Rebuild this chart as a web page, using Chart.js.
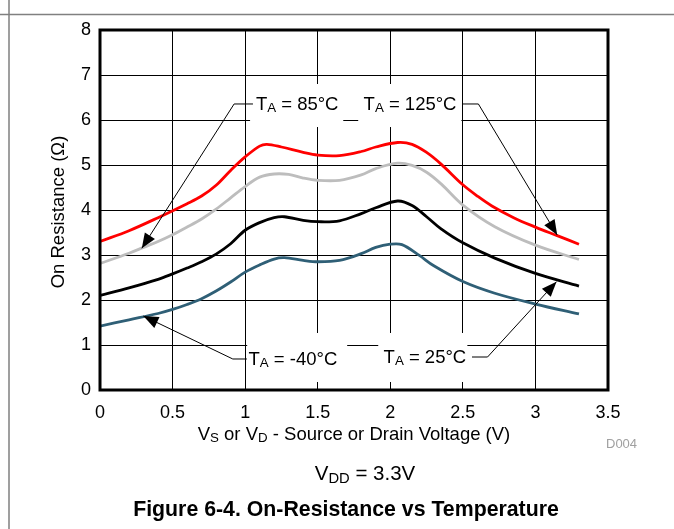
<!DOCTYPE html>
<html><head><meta charset="utf-8">
<script src="https://cdn.jsdelivr.net/npm/chart.js@4.4.0/dist/chart.umd.min.js"></script>
<style>html,body{margin:0;padding:0;background:#fff;overflow:hidden}</style>
</head><body>
<canvas id="c" width="674" height="529"></canvas>
<script>
// ---- data ----
const xTicks = [0, 0.5, 1, 1.5, 2, 2.5, 3, 3.5];
const yTicks = [0, 1, 2, 3, 4, 5, 6, 7, 8];

const v125 = [0, 0.2, 0.4, 0.6, 0.7, 0.8, 0.9, 1.0, 1.1, 1.15, 1.25, 1.4, 1.5, 1.65, 1.8, 1.9, 2.05, 2.15, 2.25, 2.35, 2.5, 2.6, 2.7, 2.85, 3.0, 3.15, 3.3];
const r125 = [3.30, 3.54, 3.83, 4.14, 4.31, 4.55, 4.88, 5.18, 5.42, 5.46, 5.40, 5.28, 5.22, 5.21, 5.30, 5.40, 5.50, 5.46, 5.28, 5.02, 4.56, 4.31, 4.09, 3.83, 3.62, 3.43, 3.24];

const v85 = [0, 0.2, 0.3, 0.4, 0.5, 0.6, 0.7, 0.8, 0.9, 1.0, 1.1, 1.2, 1.3, 1.4, 1.5, 1.65, 1.8, 1.9, 2.05, 2.15, 2.25, 2.35, 2.5, 2.72, 3.0, 3.3];
const r85 = [2.81, 3.04, 3.17, 3.30, 3.45, 3.62, 3.80, 4.02, 4.27, 4.52, 4.73, 4.80, 4.79, 4.71, 4.66, 4.66, 4.78, 4.92, 5.04, 4.99, 4.84, 4.58, 4.11, 3.63, 3.22, 2.90];

const v25 = [0, 0.2, 0.4, 0.5, 0.6, 0.7, 0.8, 0.9, 1.0, 1.1, 1.2, 1.27, 1.4, 1.5, 1.65, 1.8, 1.9, 2.05, 2.15, 2.25, 2.35, 2.5, 2.72, 3.0, 3.3];
const r25 = [2.10, 2.27, 2.46, 2.58, 2.71, 2.85, 3.02, 3.25, 3.55, 3.72, 3.83, 3.85, 3.77, 3.74, 3.76, 3.92, 4.05, 4.20, 4.10, 3.85, 3.58, 3.27, 2.93, 2.59, 2.31];

const vm40 = [0, 0.2, 0.4, 0.5, 0.6, 0.7, 0.8, 0.9, 1.0, 1.1, 1.2, 1.27, 1.4, 1.5, 1.65, 1.8, 1.9, 2.0, 2.08, 2.2, 2.3, 2.5, 2.72, 3.0, 3.3];
const rm40 = [1.42, 1.56, 1.70, 1.79, 1.90, 2.03, 2.20, 2.40, 2.62, 2.78, 2.91, 2.94, 2.88, 2.85, 2.88, 3.03, 3.17, 3.24, 3.23, 2.99, 2.76, 2.41, 2.15, 1.91, 1.69];

const seriesNames = ['TA = 125°C', 'TA = 85°C', 'TA = 25°C', 'TA = -40°C'];
const seriesColors = ['#ff0000', '#bdbdbd', '#000000', '#2f5f76'];

const xTitle = [['V', 0], ['S', 1], [' or ', 0], ['V', 0], ['D', 1], [' - Source or Drain Voltage (V)', 0]];
const yTitle = 'On Resistance (Ω)';
const condText = [['V', 0], ['DD', 1], [' = 3.3V', 0]];
const caption = 'Figure 6-4. On-Resistance vs Temperature';
const docId = 'D004';

// ---- helpers ----
const FAM = '"Liberation Sans", Arial, Helvetica, sans-serif';
function pts(xs, ys) { return xs.map((x, i) => ({x: x, y: ys[i]})); }
function drawRich(ctx, parts, x, y, size, align, weight) {
  const sub = size * 0.72;
  const f = (s) => (weight || 'normal') + ' ' + s + 'px ' + FAM;
  let w = 0;
  parts.forEach(p => { ctx.font = f(p[1] ? sub : size); w += ctx.measureText(p[0]).width; });
  let cx = align === 'center' ? x - w / 2 : (align === 'right' ? x - w : x);
  ctx.textAlign = 'left';
  ctx.textBaseline = 'alphabetic';
  parts.forEach(p => {
    ctx.font = f(p[1] ? sub : size);
    ctx.fillText(p[0], cx, p[1] ? y + size * 0.13 : y);
    cx += ctx.measureText(p[0]).width;
  });
}

// annotation layout (data coordinates)
const annotations = [
  {parts: [['T', 0], ['A', 1], [' = 85°C', 0]], tx: 1.074, ty: 6.222, box: [1.034, 6.80, 1.676, 5.844], leader: [[1.054, 6.356], [0.924, 6.356], [0.288, 3.149]]},
  {parts: [['T', 0], ['A', 1], [' = 125°C', 0]], tx: 1.816, ty: 6.222, box: [1.779, 6.80, 2.49, 5.844], leader: [[2.494, 6.356], [2.607, 6.356], [3.150, 3.444]]},
  {parts: [['T', 0], ['A', 1], [' = -40°C', 0]], tx: 1.023, ty: 0.556, box: [1.014, 1.267, 1.703, 0.178], leader: [[1.012, 0.689], [0.915, 0.689], [0.299, 1.644]]},
  {parts: [['T', 0], ['A', 1], [' = 25°C', 0]], tx: 1.954, ty: 0.607, box: [1.917, 1.267, 2.531, 0.178], leader: [[2.563, 0.733], [2.670, 0.733], [3.145, 2.407]]}
];

const deco = {
  id: 'deco',
  beforeDatasetsDraw(chart) {
    const ctx = chart.ctx, xs = chart.scales.x, ys = chart.scales.y;
    ctx.save();
    ctx.fillStyle = '#fff';
    annotations.forEach(a => {
      const x1 = xs.getPixelForValue(a.box[0]), x2 = xs.getPixelForValue(a.box[2]);
      const y1 = ys.getPixelForValue(a.box[1]), y2 = ys.getPixelForValue(a.box[3]);
      ctx.fillRect(x1, y1, x2 - x1, y2 - y1);
    });
    ctx.restore();
  },
  afterDatasetsDraw(chart) {
    const ctx = chart.ctx, xs = chart.scales.x, ys = chart.scales.y, ca = chart.chartArea;
    ctx.save();
    ctx.strokeStyle = '#000';
    ctx.lineWidth = 3;
    ctx.strokeRect(ca.left, ca.top, ca.right - ca.left, ca.bottom - ca.top);
    annotations.forEach(a => {
      const p = a.leader.map(q => [xs.getPixelForValue(q[0]), ys.getPixelForValue(q[1])]);
      ctx.strokeStyle = '#000';
      ctx.lineWidth = 1;
      ctx.beginPath();
      ctx.moveTo(p[0][0], p[0][1]);
      for (let i = 1; i < p.length; i++) ctx.lineTo(p[i][0], p[i][1]);
      ctx.stroke();
      const t = p[p.length - 1], s = p[p.length - 2];
      const ang = Math.atan2(t[1] - s[1], t[0] - s[0]);
      const L = 15, W = 6;
      const bx = t[0] - L * Math.cos(ang), by = t[1] - L * Math.sin(ang);
      ctx.fillStyle = '#000';
      ctx.beginPath();
      ctx.moveTo(t[0], t[1]);
      ctx.lineTo(bx + W * Math.sin(ang), by - W * Math.cos(ang));
      ctx.lineTo(bx - W * Math.sin(ang), by + W * Math.cos(ang));
      ctx.closePath();
      ctx.fill();
      drawRich(ctx, a.parts, xs.getPixelForValue(a.tx), ys.getPixelForValue(a.ty), 18.5, 'left');
    });
    ctx.restore();
  },
  afterDraw(chart) {
    const ctx = chart.ctx, ca = chart.chartArea;
    ctx.save();
    ctx.fillStyle = '#000';
    const cx = (ca.left + ca.right) / 2;
    drawRich(ctx, xTitle, cx, 440, 18.5, 'center');
    drawRich(ctx, condText, cx + 11, 480, 20.5, 'center');
    drawRich(ctx, [[caption, 0]], cx - 8, 515.5, 21.3, 'center', 'bold');
    ctx.fillStyle = '#a0a0a0';
    drawRich(ctx, [[docId, 0]], 606, 448, 13, 'left');
    ctx.fillStyle = '#000';
    ctx.translate(59, 212);
    ctx.rotate(-Math.PI / 2);
    ctx.font = '18.5px ' + FAM;
    ctx.textAlign = 'center';
    ctx.textBaseline = 'middle';
    ctx.fillText(yTitle, 0, 0);
    ctx.restore();
    ctx.save();
    ctx.strokeStyle = '#808080';
    ctx.lineWidth = 1.5;
    ctx.beginPath();
    ctx.moveTo(0, 14.5); ctx.lineTo(674, 14.5);
    ctx.moveTo(9, 0); ctx.lineTo(9, 529);
    ctx.stroke();
    ctx.restore();
  }
};

const allX = [v125, v85, v25, vm40];
const allY = [r125, r85, r25, rm40];

new Chart(document.getElementById('c'), {
  type: 'line',
  data: {
    datasets: seriesNames.map((n, i) => ({
      label: n,
      data: pts(allX[i], allY[i]),
      borderColor: seriesColors[i],
      backgroundColor: seriesColors[i],
      borderWidth: 2.8,
      pointRadius: 0,
      fill: false,
      tension: 0.35
    }))
  },
  options: {
    responsive: false,
    animation: false,
    events: [],
    layout: {padding: {left: 0, right: 66, top: 30, bottom: 0}},
    plugins: {legend: {display: false}, tooltip: {enabled: false}, title: {display: false}},
    scales: {
      x: {
        type: 'linear', min: xTicks[0], max: xTicks[xTicks.length - 1],
        afterBuildTicks: (s) => { s.ticks = xTicks.map(v => ({value: v})); },
        afterFit: (s) => { s.height = 139; },
        ticks: {color: '#000', font: {size: 18, family: FAM}, padding: 12, maxRotation: 0, autoSkip: false,
                callback: (v) => String(v)},
        grid: {color: '#000', lineWidth: 1, drawTicks: false},
        border: {display: false}
      },
      y: {
        type: 'linear', min: yTicks[0], max: yTicks[yTicks.length - 1],
        afterBuildTicks: (s) => { s.ticks = yTicks.map(v => ({value: v})); },
        afterFit: (s) => { s.width = 100; },
        ticks: {color: '#000', font: {size: 18, family: FAM}, padding: 9, autoSkip: false,
                callback: (v) => String(v)},
        grid: {color: '#000', lineWidth: 1, drawTicks: false},
        border: {display: false}
      }
    }
  },
  plugins: [deco]
});
</script>
</body></html>
